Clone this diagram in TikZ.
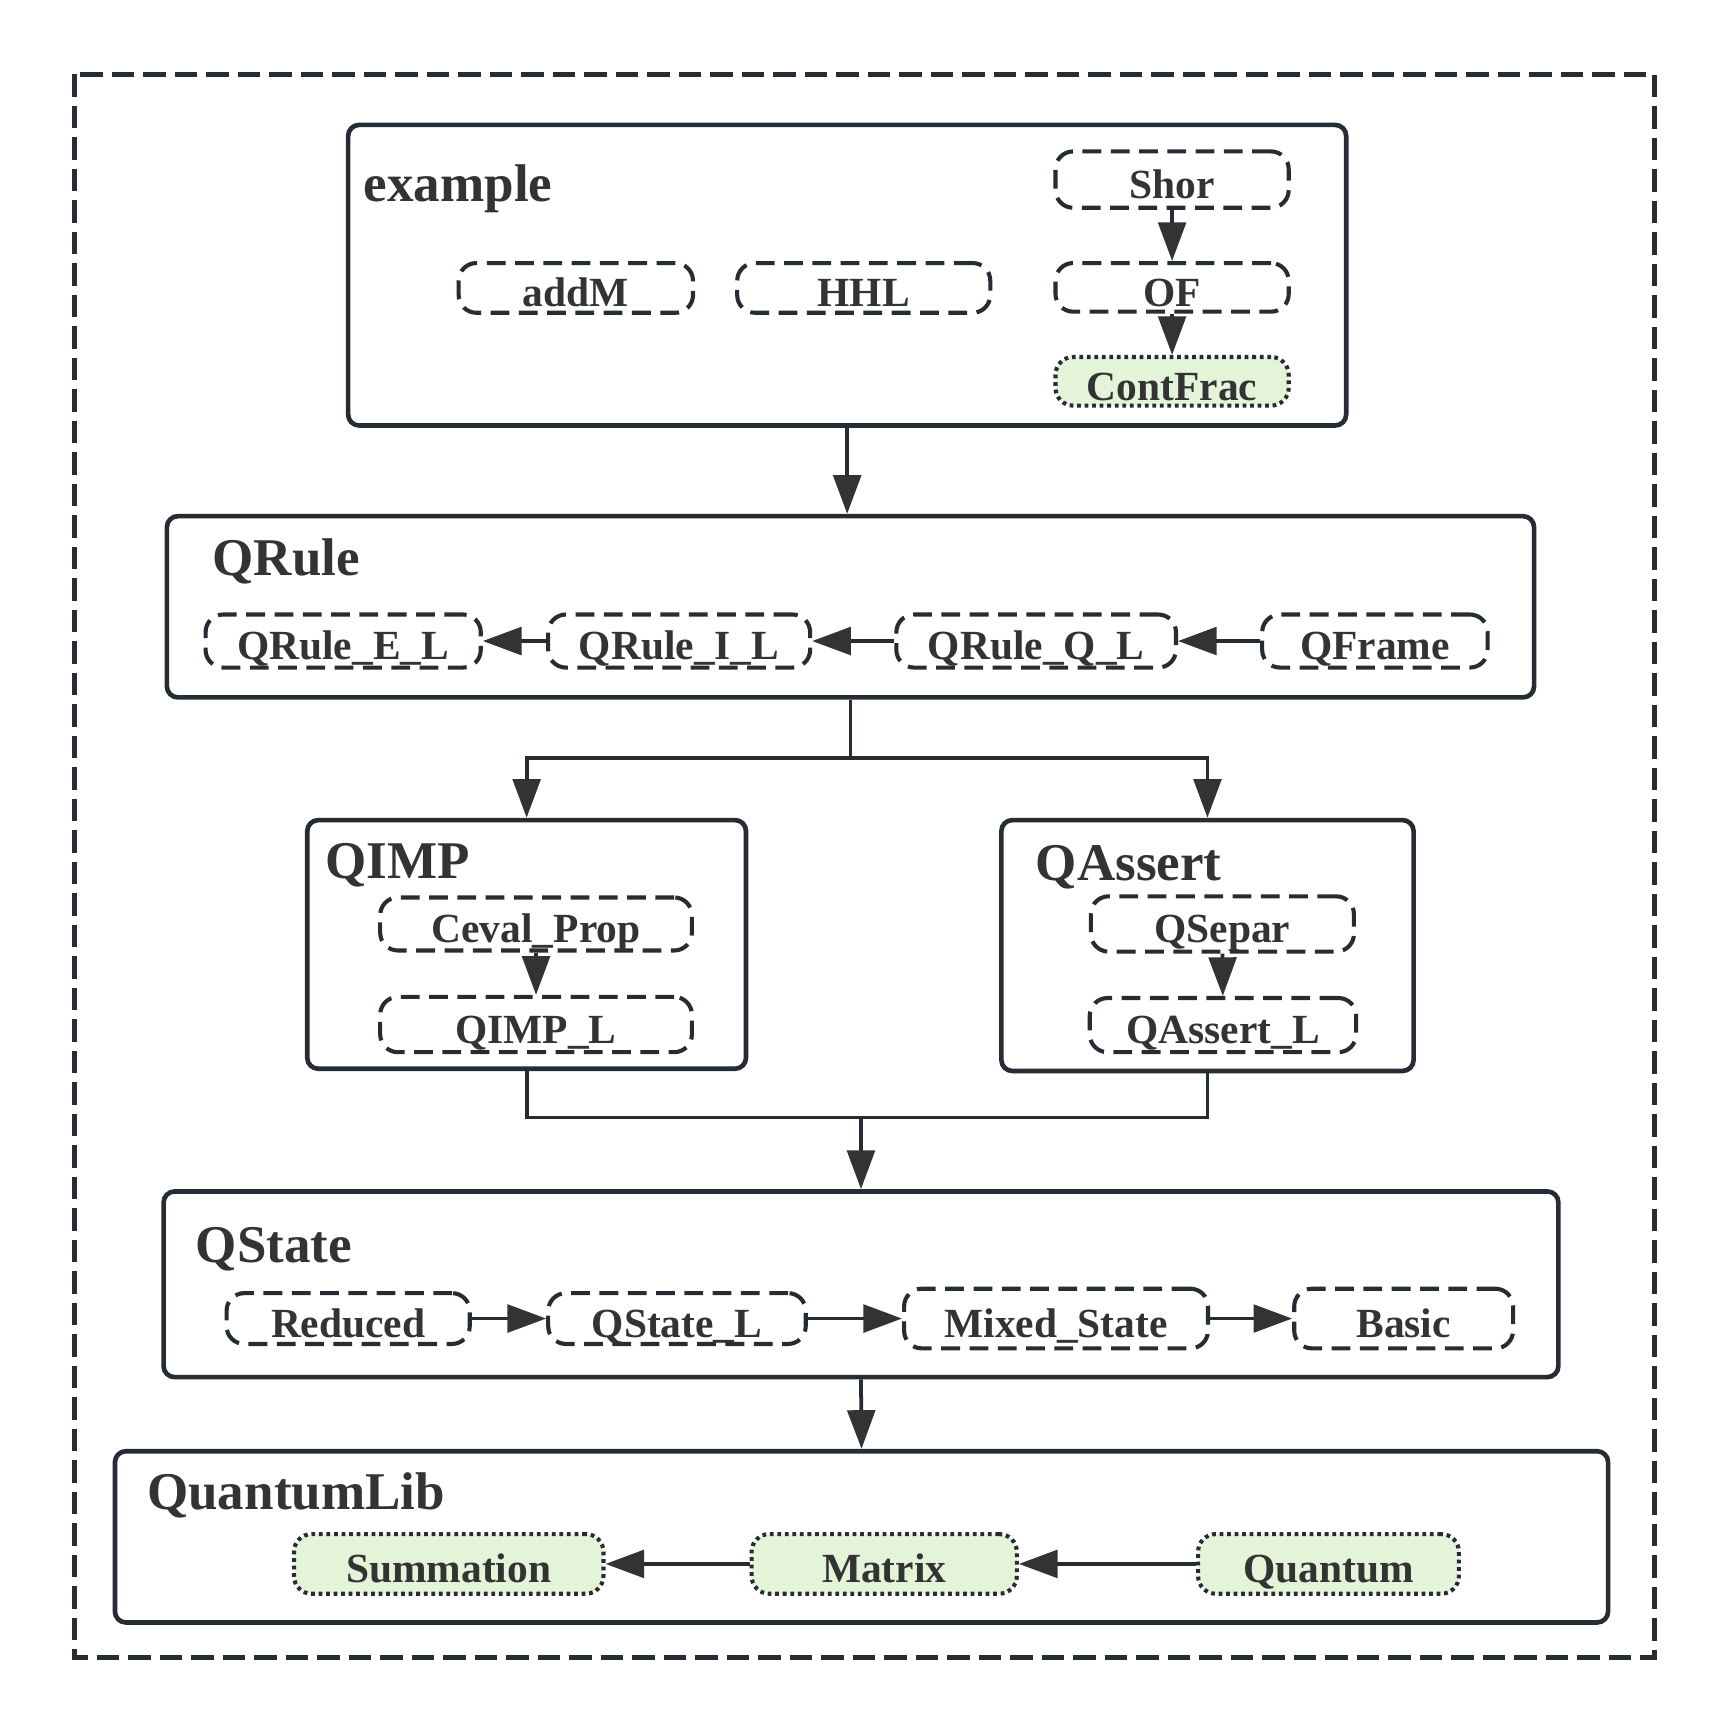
\documentclass[tikz,border=0pt]{standalone}
\usepackage{fontspec}
\setmainfont{Liberation Serif}
\usetikzlibrary{arrows.meta}
\definecolor{ln}{HTML}{262C33}
\definecolor{tx}{HTML}{333333}
\definecolor{gf}{HTML}{E3F4D9}
\begin{document}
\begin{tikzpicture}[x=1pt,y=-1pt,
  container/.style={draw=ln, line width=4.2pt, rounded corners=10pt, inner sep=0pt},
  title/.style={anchor=base west, inner sep=0pt, text=tx, font=\fontsize{48pt}{50pt}\selectfont\bfseries},
  mod/.style={draw=ln, line width=3.7pt, dash pattern=on 17pt off 8.6pt, rounded corners=16pt,
    text=tx, font=\fontsize{37.5pt}{40pt}\selectfont\bfseries, text height=34pt, text depth=0pt, inner sep=0pt},
  libmod/.style={mod, fill=gf, dash pattern=on 3.4pt off 3.4pt},
  arr/.style={draw=ln, line width=3.4pt, -{Triangle[length=35pt,width=25pt,color=tx]}},
  link/.style={draw=ln, line width=3.4pt},
  outerframe/.style={draw=ln, line width=4.6pt, dash pattern=on 20.5pt off 8pt}
  ]
\useasboundingbox (0,0) rectangle (1564,1568);
\draw[outerframe] (67,67) rectangle (1497,1500);

% example
\node[container, minimum width=903pt, minimum height=272pt] (ex) at (766.5,249) {};
\node[title] (ext) at (329,182) {example};
\node[mod, minimum width=212pt, minimum height=45pt] (addm) at (521,260.5) {addM};
\node[mod, minimum width=229pt, minimum height=45pt] (hhl) at (781.5,260.5) {HHL};
\node[mod, minimum width=211pt, minimum height=51pt] (shor) at (1060.5,162.5) {Shor};
\node[mod, minimum width=211pt, minimum height=44pt] (of) at (1060.5,260) {OF};
\node[libmod, minimum width=211pt, minimum height=44pt] (cf) at (1060.5,345) {ContFrac};
\draw[arr] (shor) -- (of);
\draw[arr] (of) -- (cf);

% QRule
\node[container, minimum width=1237pt, minimum height=164pt] (qrule) at (769.5,549) {};
\node[title] (qrulet) at (192,521) {QRule};
\node[mod, minimum width=249pt, minimum height=48pt] (qre) at (310.5,580) {QRule\_E\_L};
\node[mod, minimum width=237pt, minimum height=48pt] (qri) at (614.5,580) {QRule\_I\_L};
\node[mod, minimum width=253pt, minimum height=48pt] (qrq) at (937.5,580) {QRule\_Q\_L};
\node[mod, minimum width=204pt, minimum height=48pt] (qfr) at (1244,580) {QFrame};
\draw[arr] (qfr) -- (qrq);
\draw[arr] (qrq) -- (qri);
\draw[arr] (qri) -- (qre);

% QIMP
\node[container, minimum width=397pt, minimum height=225pt] (qimp) at (476.5,854.5) {};
\node[title] (qimpt) at (294,795) {QIMP};
\node[mod, minimum width=282pt, minimum height=48pt] (ceval) at (485,836) {Ceval\_Prop};
\node[mod, minimum width=282pt, minimum height=50pt] (qimpl) at (485,927) {QIMP\_L};
\draw[arr] (ceval) -- (qimpl);

% QAssert
\node[container, minimum width=373pt, minimum height=227pt] (qas) at (1092.5,855.5) {};
\node[title] (qast) at (937,797) {QAssert};
\node[mod, minimum width=238pt, minimum height=50pt] (qsep) at (1106,836) {QSepar};
\node[mod, minimum width=241pt, minimum height=49pt] (qasl) at (1106.5,927.5) {QAssert\_L};
\draw[arr] (qsep) -- (qasl);

% QState
\node[container, minimum width=1262pt, minimum height=168pt] (qst) at (779,1162) {};
\node[title] (qstt) at (177,1142) {QState};
\node[mod, minimum width=220pt, minimum height=46pt] (red) at (315,1193) {Reduced};
\node[mod, minimum width=233pt, minimum height=46pt] (qstl) at (612.5,1193) {QState\_L};
\node[mod, minimum width=275pt, minimum height=54pt] (mix) at (955.5,1193) {Mixed\_State};
\node[mod, minimum width=198pt, minimum height=54pt] (bas) at (1270,1193) {Basic};
\draw[arr] (red) -- (qstl);
\draw[arr] (qstl) -- (mix);
\draw[arr] (mix) -- (bas);

% QuantumLib
\node[container, minimum width=1351pt, minimum height=155pt] (qlib) at (779.5,1390.5) {};
\node[title] (qlibt) at (133,1366) {QuantumLib};
\node[libmod, minimum width=280pt, minimum height=54pt] (sum) at (406,1415) {Summation};
\node[libmod, minimum width=240pt, minimum height=54pt] (mat) at (800,1415) {Matrix};
\node[libmod, minimum width=236pt, minimum height=54pt] (qua) at (1202,1415) {Quantum};
\draw[arr] (qua) -- (mat);
\draw[arr] (mat) -- (sum);

% connectors between layers
\draw[arr] (ex.south) -- (ex.south |- qrule.north);
\coordinate (split) at (769.5,686);
\draw[link] (qrule.south) -- (split);
\draw[arr] (split) -| (qimp.north);
\draw[arr] (split) -| (qas.north);
\coordinate (join) at (779,1011);
\draw[link] (qimp.south) |- (join);
\draw[link] (qas.south) |- (join);
\draw[arr] (join) -- (qst.north);
\draw[arr] (qst.south) -- (qlib.north);
\end{tikzpicture}
\end{document}
